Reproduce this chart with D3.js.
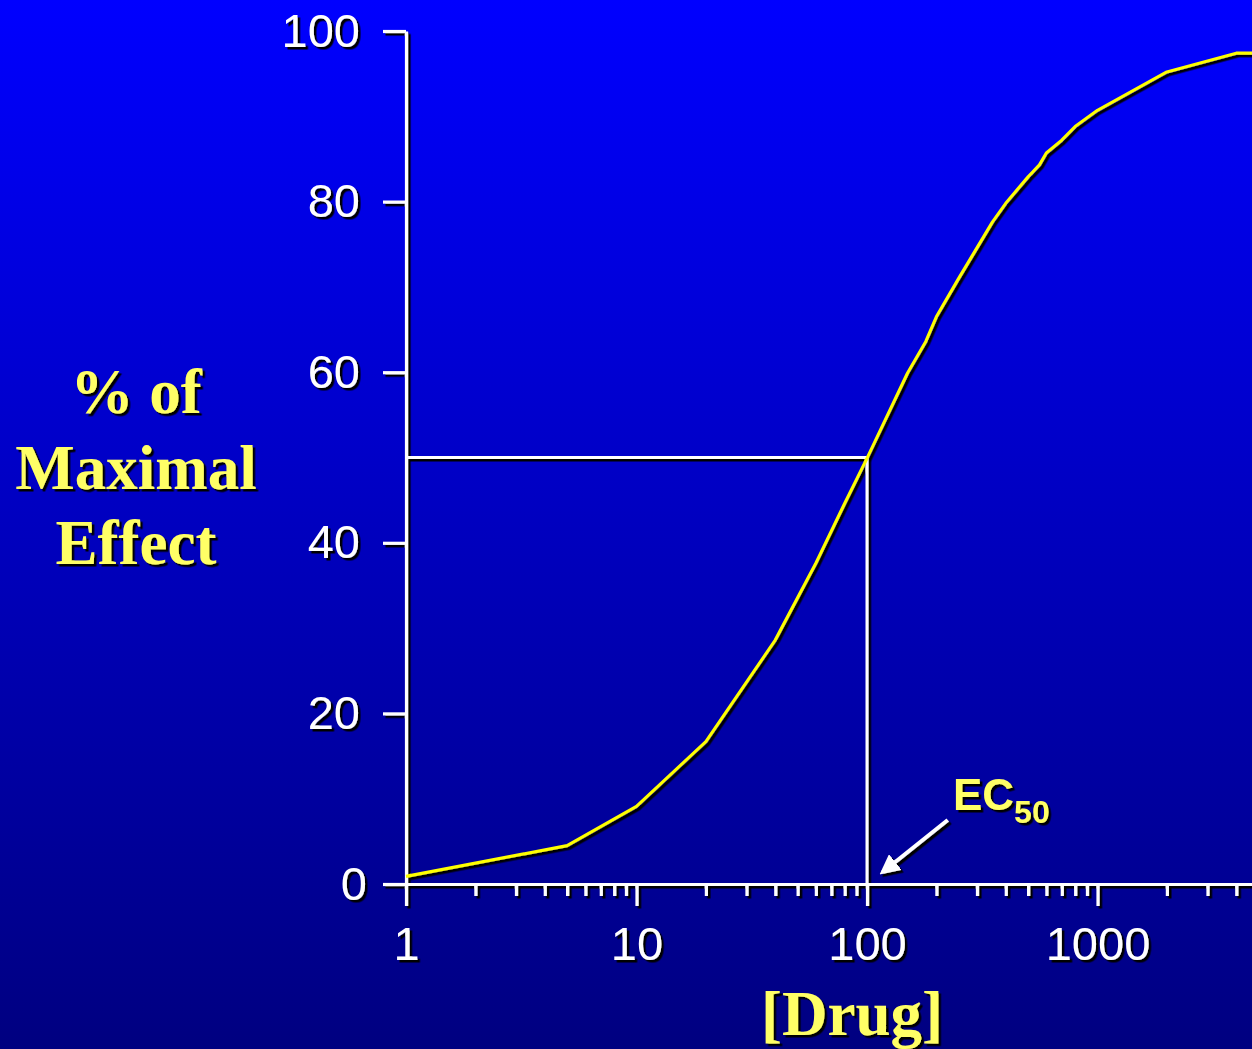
<!DOCTYPE html>
<html>
<head>
<meta charset="utf-8">
<script src="https://cdn.jsdelivr.net/npm/d3@7"></script>
<style>
  html, body { margin: 0; padding: 0; background: #000080; }
  svg { display: block; }
</style>
</head>
<body>
<svg id="chart" width="1252" height="1049"></svg>
<script>
// ---- data ----
const drugConc = [1, 5, 10, 20, 40, 60, 80, 100, 150, 180, 200, 250, 350, 400, 500, 560, 600, 700, 800, 1000, 2000, 4000, 5000];
const effectPct = [0.9, 4.5, 9.1, 16.7, 28.6, 37.6, 44.6, 49.9, 59.9, 63.6, 66.5, 71.0, 77.6, 79.8, 82.9, 84.3, 85.7, 87.2, 88.8, 90.7, 95.2, 97.4, 97.4];
const xMajorTicks = [1, 10, 100, 1000];
const xMinorTicks = [2,3,4,5,6,7,8,9,20,30,40,50,60,70,80,90,200,300,400,500,600,700,800,900,2000,3000,4000];
const yTicks = [0, 20, 40, 60, 80, 100];
const ec50 = 100;
const ec50Effect = 50;
const ec50ArrowTip = [117, 1.4];
const ec50ArrowTail = [224, 7.5];
const ec50LabelAt = [236, 8.7];
const yTitleLines = ["% of", "Maximal", "Effect"];
const xTitle = "[Drug]";

// ---- setup ----
const svg = d3.select("#chart");
const W = 1252, H = 1049;
const defs = svg.append("defs");
const grad = defs.append("linearGradient").attr("id", "bg").attr("x1", 0).attr("y1", 0).attr("x2", 0).attr("y2", 1);
grad.append("stop").attr("offset", "0%").attr("stop-color", "#0000FF");
grad.append("stop").attr("offset", "100%").attr("stop-color", "#000080");
const sh = defs.append("filter").attr("id", "shadow").attr("filterUnits", "userSpaceOnUse")
  .attr("x", 0).attr("y", 0).attr("width", W).attr("height", H);
sh.append("feDropShadow").attr("dx", 2.5).attr("dy", 2.5).attr("stdDeviation", 0.4).attr("flood-color", "#000").attr("flood-opacity", 1);
defs.append("marker").attr("id", "arrow").attr("viewBox", "0 0 10 10").attr("refX", 8).attr("refY", 5)
  .attr("markerWidth", 5).attr("markerHeight", 5).attr("markerUnits", "strokeWidth").attr("orient", "auto")
  .append("path").attr("d", "M0,0 L10,5 L0,10 Z").attr("fill", "#fff");

svg.append("rect").attr("width", W).attr("height", H).attr("fill", "url(#bg)");

const x = d3.scaleLog().domain([1, 5000]).range([406, 406 + 230.5 * Math.log10(5000)]);
const y = d3.scaleLinear().domain([0, 100]).range([884, 31]);

const g = svg.append("g").attr("filter", "url(#shadow)");

// EC50 reference lines
g.append("path")
  .attr("d", d3.line()([[x(1), y(ec50Effect)], [x(ec50), y(ec50Effect)], [x(ec50), y(0)]]))
  .attr("fill", "none").attr("stroke", "#fff").attr("stroke-width", 3);

// Y axis
const yAxis = g.append("g").attr("transform", `translate(${x(1)},0)`)
  .call(d3.axisLeft(y).tickValues(yTicks).tickSize(23).tickSizeOuter(0).tickPadding(23));
// X axis minor
const xMinor = g.append("g").attr("transform", `translate(0,${y(0)})`)
  .call(d3.axisBottom(x).tickValues(xMinorTicks).tickSize(12).tickSizeOuter(0).tickFormat(""));
// X axis major
const xAxis = g.append("g").attr("transform", `translate(0,${y(0)})`)
  .call(d3.axisBottom(x).tickValues(xMajorTicks).tickSize(22).tickSizeOuter(0).tickPadding(21).tickFormat(d3.format("d")));

[yAxis, xMinor, xAxis].forEach(a => {
  a.selectAll("path, line").attr("stroke", "#fff").attr("stroke-width", 3.2);
  a.selectAll("text").attr("fill", "#fff").attr("font-family", "Liberation Sans, Arial, sans-serif").attr("font-size", 47);
});
xMinor.select(".domain").remove();
yAxis.selectAll(".tick").filter(d => d === 0).select("text").attr("dx", 7);

// curve
const pts = drugConc.map((d, i) => [x(d), y(effectPct[i])]);
g.append("path").attr("d", d3.line()(pts))
  .attr("fill", "none").attr("stroke", "#FFFF00").attr("stroke-width", 3.2).attr("stroke-linejoin", "round");

// EC50 arrow
g.append("line")
  .attr("x1", x(ec50ArrowTail[0])).attr("y1", y(ec50ArrowTail[1]))
  .attr("x2", x(ec50ArrowTip[0])).attr("y2", y(ec50ArrowTip[1]))
  .attr("stroke", "#fff").attr("stroke-width", 4).attr("marker-end", "url(#arrow)");

const ecText = g.append("text").attr("x", x(ec50LabelAt[0])).attr("y", y(ec50LabelAt[1]))
  .attr("fill", "#FFFF66").attr("font-family", "Liberation Sans, Arial, sans-serif").attr("font-weight", "bold");
ecText.append("tspan").attr("font-size", 44).text("EC");
ecText.append("tspan").attr("font-size", 32).attr("dy", 13).text("50");

// Y title
const yt = g.append("text").attr("text-anchor", "middle")
  .attr("fill", "#FFFF66").attr("font-family", "Liberation Serif, Times New Roman, serif")
  .attr("font-weight", "bold").attr("font-size", 63);
yTitleLines.forEach((t, i) => {
  yt.append("tspan").attr("x", 136).attr("y", 413 + i * 75.5).text(t);
});

// X title
g.append("text").attr("x", 852).attr("y", 1035).attr("text-anchor", "middle")
  .attr("fill", "#FFFF66").attr("font-family", "Liberation Serif, Times New Roman, serif")
  .attr("font-weight", "bold").attr("font-size", 63).text(xTitle);
</script>
</body>
</html>
